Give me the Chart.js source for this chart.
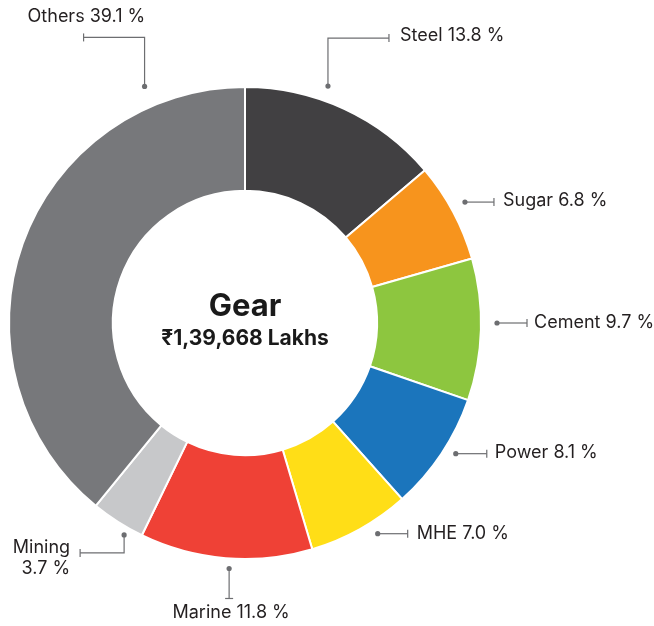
<!DOCTYPE html>
<html>
<head>
<meta charset="utf-8">
<script src="https://cdn.jsdelivr.net/npm/chart.js@4"></script>
<style>
  html, body { margin: 0; padding: 0; background: #fff; }
  #wrap { width: 654px; height: 626px; position: relative; }
</style>
</head>
<body>
<div id="wrap"><canvas id="gearChart"></canvas></div>
<script>
// segments, clockwise from 12 o'clock
const categories = ['Steel', 'Sugar', 'Cement', 'Power', 'MHE', 'Marine', 'Mining', 'Others'];
const shares = [13.8, 6.8, 9.7, 8.1, 7.0, 11.8, 3.7, 39.1];
const colors = ['#414042', '#F7941D', '#8DC63F', '#1B75BC', '#FFDE17', '#EF4136', '#C7C8CA', '#77787B'];
const centerTitle = 'Gear';
const centerSub = '₹1,39,668 Lakhs';

// callout layout: dot angle (deg clockwise from top), gap past the rim, leader legs, text offset
const callouts = [
  { angle: 19.3, gap: 15, legs: [[0, -48], [61, 0]], tx: 11, ty: -3, align: 'left' },
  { angle: 61.2, gap: 15, legs: [[29, 0]], tx: 9, ty: -1, align: 'left' },
  { angle: 90, gap: 16, legs: [[30, 0]], tx: 7, ty: 0, align: 'left' },
  { angle: 121.8, gap: 12, legs: [[31, 0]], tx: 8, ty: -1, align: 'left' },
  { angle: 147.8, gap: 13, legs: [[30, 0]], tx: 9, ty: 0, align: 'left' },
  { angle: 183.7, gap: 10, legs: [[0, 30]], tx: 2, ty: 14, align: 'center' },
  { angle: 209.7, gap: 8, legs: [[0, 18], [-44, 0]], tx: -10, ty: -5, align: 'right', wrap: true },
  { angle: 337, gap: 21, legs: [[0, -49], [-61, 0]], tx: -56, ty: -21, align: 'left' }
];

const FONT = 'Inter, "Noto Sans", sans-serif';

const calloutPlugin = {
  id: 'callouts',
  afterDraw(chart) {
    const ctx = chart.ctx;
    const arc = chart.getDatasetMeta(0).data[0];
    const cx = arc.x, cy = arc.y, R = arc.outerRadius;

    ctx.save();
    // centre text
    ctx.fillStyle = '#1a1a1a';
    ctx.textAlign = 'center';
    ctx.textBaseline = 'middle';
    ctx.font = 'bold 31px ' + FONT;
    ctx.fillText(centerTitle, cx, cy - 16);
    ctx.font = 'bold 21px ' + FONT;
    ctx.fillText(centerSub, cx, cy + 16);

    callouts.forEach((c, i) => {
      const a = c.angle * Math.PI / 180;
      let x = cx + Math.sin(a) * (R + c.gap);
      let y = cy - Math.cos(a) * (R + c.gap);
      ctx.strokeStyle = '#6D6E71';
      ctx.fillStyle = '#6D6E71';
      ctx.lineWidth = 1.2;
      ctx.beginPath();
      ctx.arc(x, y, 2.6, 0, Math.PI * 2);
      ctx.fill();
      ctx.beginPath();
      ctx.moveTo(x, y);
      let last = [0, 0];
      c.legs.forEach(l => { x += l[0]; y += l[1]; ctx.lineTo(x, y); last = l; });
      ctx.stroke();
      // end tick, perpendicular to last leg
      ctx.beginPath();
      if (last[0] !== 0) { ctx.moveTo(x, y - 4); ctx.lineTo(x, y + 4); }
      else { ctx.moveTo(x - 4, y); ctx.lineTo(x + 4, y); }
      ctx.stroke();

      ctx.fillStyle = '#231F20';
      ctx.font = '18px ' + FONT;
      ctx.textAlign = c.align;
      ctx.textBaseline = 'middle';
      const val = shares[i].toFixed(1) + ' %';
      if (c.wrap) {
        ctx.fillText(categories[i], x + c.tx, y + c.ty);
        ctx.fillText(val, x + c.tx, y + c.ty + 21);
      } else {
        ctx.fillText(categories[i] + ' ' + val, x + c.tx, y + c.ty);
      }
    });
    ctx.restore();
  }
};

new Chart(document.getElementById('gearChart'), {
  type: 'doughnut',
  data: {
    labels: categories,
    datasets: [{
      data: shares,
      backgroundColor: colors,
      borderColor: '#ffffff',
      borderWidth: 2
    }]
  },
  options: {
    responsive: true,
    maintainAspectRatio: false,
    animation: false,
    cutout: '56%',
    layout: { padding: { left: 8, right: 172, top: 86, bottom: 66 } },
    plugins: {
      legend: { display: false },
      tooltip: { enabled: false }
    }
  },
  plugins: [calloutPlugin]
});
</script>
</body>
</html>
